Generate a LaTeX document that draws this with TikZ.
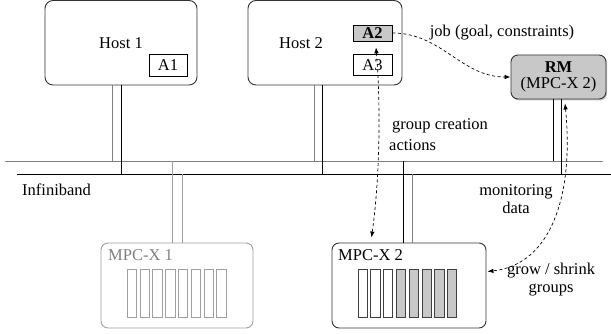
\documentclass[tikz,border=0pt]{standalone}
\usepackage{fontspec}
\setmainfont{Liberation Serif}
\usetikzlibrary{calc,shadows,arrows.meta}
\definecolor{busgray}{HTML}{7F7F7F}
\definecolor{lightline}{HTML}{A0A0A0}
\definecolor{boxfill}{HTML}{C8C8C8}
\tikzset{
  hostbox/.style={draw=black!80, line width=0.9pt, rounded corners=8pt, rectangle, inner sep=0pt},
  appbox/.style={draw=black, line width=0.8pt, rectangle, inner sep=0pt, minimum width=39pt},
  shadedbox/.style={fill=boxfill, drop shadow={shadow xshift=1pt, shadow yshift=-1.5pt, opacity=0.45}},
  mpcbox/.style={draw=black!80, line width=0.9pt, rounded corners=7pt, rectangle, inner sep=0pt, minimum width=154pt, minimum height=85pt},
  slotbox/.style={draw=black!75, line width=0.7pt, rectangle, inner sep=0pt, minimum width=9.3pt, minimum height=48pt},
  graybus/.style={draw=busgray, line width=0.9pt},
  blackbus/.style={draw=black, line width=0.8pt},
  paleline/.style={draw=lightline, line width=0.8pt},
  dasharrow/.style={dashed, line width=0.7pt, dash pattern=on 3pt off 2.5pt},
  tip/.style={-{Latex[length=6pt,width=4.5pt]}},
  lbl/.style={inner sep=0pt}
}
\begin{document}
\begin{tikzpicture}[x=1pt,y=1pt,font=\fontsize{16.5}{20}\selectfont]
\useasboundingbox (0,0) rectangle (611,334);
% buses
\coordinate (busGl) at (5,173); \coordinate (busGr) at (603,173);
\coordinate (busKl) at (17,160); \coordinate (busKr) at (611,160);
\draw[graybus] (busGl) -- (busGr);
\draw[blackbus] (busKl) -- (busKr);
\node[lbl, anchor=west] (ib) at (22,144) {Infiniband};
% hosts
\node[hostbox, minimum width=152pt, minimum height=84.5pt] (h1) at (121,291.25) {Host 1};
\node[hostbox, minimum width=154pt, minimum height=84.5pt] (h2) at (325,291.25) {Host 2\hspace*{48pt}};
\node[appbox, minimum width=38pt, minimum height=22pt] (a1) at (168,269) {A1};
\node[appbox, shadedbox, minimum height=16pt, font=\fontsize{16.5}{20}\selectfont\bfseries] (a2) at (372.5,301) {A2};
\node[appbox, minimum height=21.5pt] (a3) at (372.5,269) {A3};
% RM
\node[hostbox, shadedbox, rounded corners=7pt, minimum width=95pt, minimum height=44pt, align=center, font=\fontsize{16.5}{15.5}\selectfont] (rm) at (558.5,257) {\textbf{RM}\\(MPC-X 2)};
% MPC-X boxes
\node[mpcbox, draw=lightline, minimum width=152pt] (m1) at (177,48.5) {};
\node[lbl, anchor=west, text=busgray] (m1l) at (108,79) {MPC-X 1};
\node[mpcbox] (m2) at (409,48.5) {};
\node[lbl, anchor=west] (m2l) at (338,79) {MPC-X 2};
\foreach \i in {0,...,7}{
  \node[slotbox, draw=lightline] (sa\i) at ({131.95+\i*12.77},41) {};
}
\foreach \i in {0,...,7}{
  \ifnum\i<3
    \node[slotbox] (sb\i) at ({362.65+\i*12.77},41) {};
  \else
    \node[slotbox, fill=boxfill] (sb\i) at ({362.65+\i*12.77},41) {};
  \fi
}
% legs
\coordinate (h1a) at ($(h1.south)+(-9,0)$);
\coordinate (h1b) at ($(h1.south)+(0,0)$);
\coordinate (h2a) at ($(h2.south)+(-11,0)$);
\coordinate (h2b) at ($(h2.south)+(-3,0)$);
\coordinate (rma) at ($(rm.south)+(-5.5,0)$);
\coordinate (rmb) at ($(rm.south)+(2.5,0)$);
\coordinate (m1a) at ($(m1.north)+(-5,0)$);
\coordinate (m1b) at ($(m1.north)+(5,0)$);
\coordinate (m2a) at ($(m2.north)+(-6,0)$);
\coordinate (m2b) at ($(m2.north)+(3,0)$);
\draw[graybus] (h1a) -- (h1a |- busGl);
\draw[blackbus] (h1b) -- (h1b |- busKl);
\draw[graybus] (h2a) -- (h2a |- busGl);
\draw[blackbus] (h2b) -- (h2b |- busKl);
\draw[blackbus] (rma) -- (rma |- busGl);
\draw[blackbus] (rmb) -- (rmb |- busKl);
\draw[paleline] (m1a) -- (m1a |- busGl);
\draw[paleline] (m1b) -- (m1b |- busKl);
\draw[blackbus] (m2a) -- (m2a |- busGl);
\draw[graybus] (m2b) -- (m2b |- busKl);
% labels
\node[lbl] (job) at (502,301) {job (goal, constraints)};
\node[lbl, anchor=west, align=left] (gca) at (389,199) {\hspace*{3pt}group creation\\[1pt]actions};
\node[lbl, align=center] (mon) at (516,135) {monitoring\\[-2pt]data};
\node[lbl, align=center] (grow) at (551,54) {grow / shrink\\[-2pt]groups};
% arrows
\draw[dasharrow, tip] (a2.east) to[out=0,in=180] (rm.west);
\draw[dasharrow, {Latex[length=6pt,width=4.5pt]}-{Latex[length=6pt,width=4.5pt]}]
  ($(a2.south)+(3.5,-6)$) .. controls +(5,-63) and +(8,59) .. ($(m2.north west)+(40,5)$);
\draw[dasharrow, {Latex[length=6pt,width=4.5pt]}-{Latex[length=6pt,width=4.5pt]}]
  ($(rm.south)+(6.5,-4)$) .. controls +(9,-91) and +(64,7) .. ($(m2.east)+(1,14)$);
\end{tikzpicture}
\end{document}
